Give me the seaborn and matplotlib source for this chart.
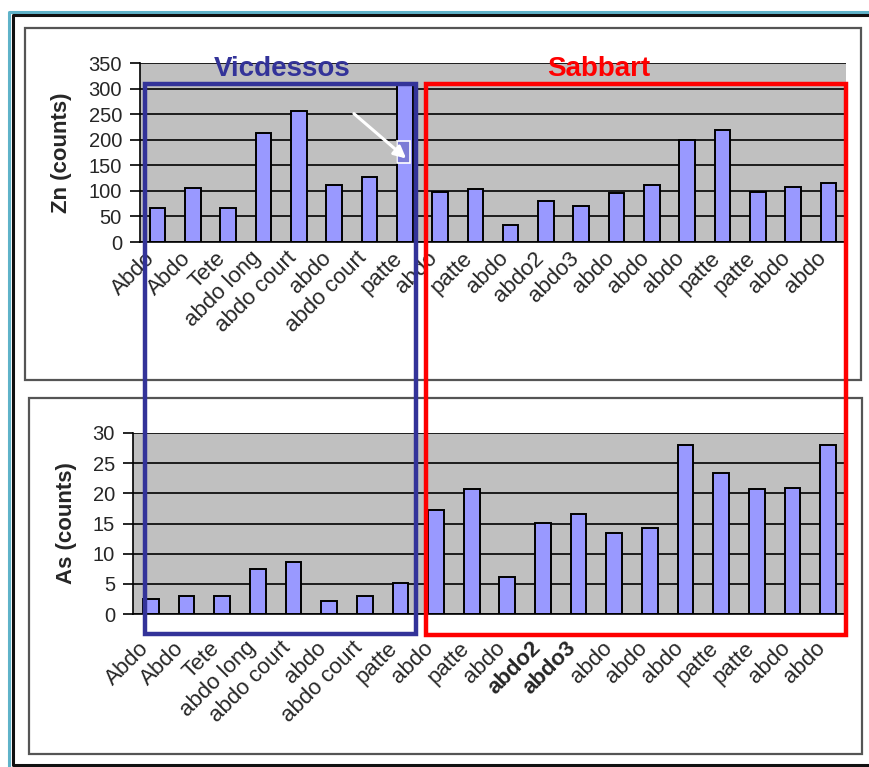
import numpy as np
import pandas as pd
import matplotlib
matplotlib.use("Agg")
import matplotlib.pyplot as plt
import matplotlib.transforms as mtransforms
import seaborn as sns
from matplotlib.patches import Rectangle
from matplotlib.lines import Line2D

# ---------------- data ----------------
labels = ["Abdo", "Abdo", "Tete", "abdo long", "abdo court", "abdo", "abdo court", "patte",
          "abdo", "patte", "abdo", "abdo2", "abdo3", "abdo", "abdo", "abdo", "patte", "patte",
          "abdo", "abdo"]
zn_counts = [67, 105, 67, 213, 257, 111, 128, 308,
             98, 103, 34, 80, 71, 96, 112, 200, 220, 98, 108, 115]
as_counts = [2.5, 3.0, 3.0, 7.5, 8.6, 2.1, 3.0, 5.2,
             17.2, 20.7, 6.1, 15.1, 16.6, 13.4, 14.3, 28.0, 23.3, 20.7, 20.9, 28.0]
regions = ["Vicdessos", "Sabbart"]
zn_ticks = [0, 50, 100, 150, 200, 250, 300, 350]
as_ticks = [0, 5, 10, 15, 20, 25, 30]

# ---------------- style ----------------
sns.set_theme(style="white")
plt.rcParams['font.family'] = ['Liberation Sans', 'DejaVu Sans']

W, H = 870, 767
fig = plt.figure(figsize=(W / 100, H / 100), dpi=100)
fig.patch.set_facecolor("white")


def fig_rect(x0, y0, x1, y1, **kw):
    return Rectangle((x0 / W, 1 - y1 / H), (x1 - x0) / W, (y1 - y0) / H,
                     transform=fig.transFigure, fill=False, **kw)


def fig_line(xs, ys, **kw):
    return Line2D([x / W for x in xs], [1 - y / H for y in ys],
                  transform=fig.transFigure, **kw)


def ax_box(x0, y0, x1, y1):
    return [x0 / W, 1 - y1 / H, (x1 - x0) / W, (y1 - y0) / H]


# outer frames (open on the right side, as in the cropped screenshot)
fig.add_artist(fig_line([870, 9, 9], [12, 12, 767], color="#5fb3c9", lw=2.2))
fig.add_artist(fig_line([870, 13, 13, 870], [15, 15, 765, 765], color="#111111", lw=2.2))
fig.add_artist(fig_rect(25, 28, 861, 380, ec="#555555", lw=1.6))
fig.add_artist(fig_rect(29, 398, 862, 754, ec="#555555", lw=1.6))

df = pd.DataFrame({"pos": np.arange(len(labels)), "zn": zn_counts, "as": as_counts})

ax1 = fig.add_axes(ax_box(140, 63.3, 846, 242))
ax2 = fig.add_axes(ax_box(133, 433, 846, 614))

bar_color = "#9999ff"
for ax, col, ticks, ylab, lc, pad in [(ax1, "zn", zn_ticks, "Zn (counts)", (-0.096, 0.5), 4),
                                      (ax2, "as", as_ticks, "As (counts)", (-0.0785, 0.5), 17)]:
    sns.barplot(data=df, x="pos", y=col, color=bar_color, saturation=1, width=0.44,
                edgecolor="black", linewidth=1.4, ax=ax)
    ax.set_facecolor("#c0c0c0")
    ax.set_ylim(ticks[0], ticks[-1])
    ax.set_yticks(ticks)
    ax.set_xlim(-0.5, len(labels) - 0.5)
    ax.set_axisbelow(True)
    ax.yaxis.grid(True, color="black", lw=1.2)
    ax.xaxis.grid(False)
    for s in ["top", "right"]:
        ax.spines[s].set_visible(False)
    for s in ["left", "bottom"]:
        ax.spines[s].set_color("black")
        ax.spines[s].set_linewidth(1.2)
    ax.set_xticks(np.arange(len(labels)))
    ax.set_xticklabels(labels, rotation=45, ha="right", va="top", rotation_mode="anchor",
                       fontsize=16)
    ax.set_xticks(np.arange(-0.5, len(labels), 1), minor=True)
    ax.tick_params(axis="x", which="major", length=0, pad=pad)
    ax.tick_params(axis="x", which="minor", length=5, width=1.2, color="black", direction="out")
    ax.tick_params(axis="y", length=7, width=1.2, color="black", direction="out", pad=6,
                   labelsize=14.5, left=True)
    ax.set_xlabel("")
    ax.set_ylabel(ylab, fontsize=16, fontweight="bold")
    ax.yaxis.set_label_coords(*lc)
    off = mtransforms.ScaledTranslation(-13 / 100, 0, fig.dpi_scale_trans)
    for t in ax.get_xticklabels():
        t.set_transform(t.get_transform() + off)

for t in ax2.get_xticklabels():
    if t.get_text() in ("abdo2", "abdo3"):
        t.set_fontweight("bold")

# highlight on the tallest Vicdessos bar
ax1.add_patch(Rectangle((6.77, 155), 0.38, 42, facecolor="#7c7cd6", edgecolor="white",
                        lw=1.2, zorder=5))
ax1.annotate("", xy=(7.1, 160), xytext=(5.5, 255),
             arrowprops=dict(arrowstyle="-|>", color="white", lw=2.2, mutation_scale=18),
             zorder=6)

# region boxes spanning both charts
fig.add_artist(fig_rect(145, 84, 416, 634, ec="#333399", lw=3.2, zorder=10))
fig.add_artist(fig_rect(426, 84, 846, 635, ec="#ff0000", lw=3.2, zorder=10))
fig.text(282 / W, 1 - 69 / H, regions[0], ha="center", va="center", fontsize=20,
         fontweight="bold", color="#333399")
fig.text(599 / W, 1 - 69 / H, regions[1], ha="center", va="center", fontsize=20,
         fontweight="bold", color="#ff0000")

fig.savefig("out.png", dpi=100)
